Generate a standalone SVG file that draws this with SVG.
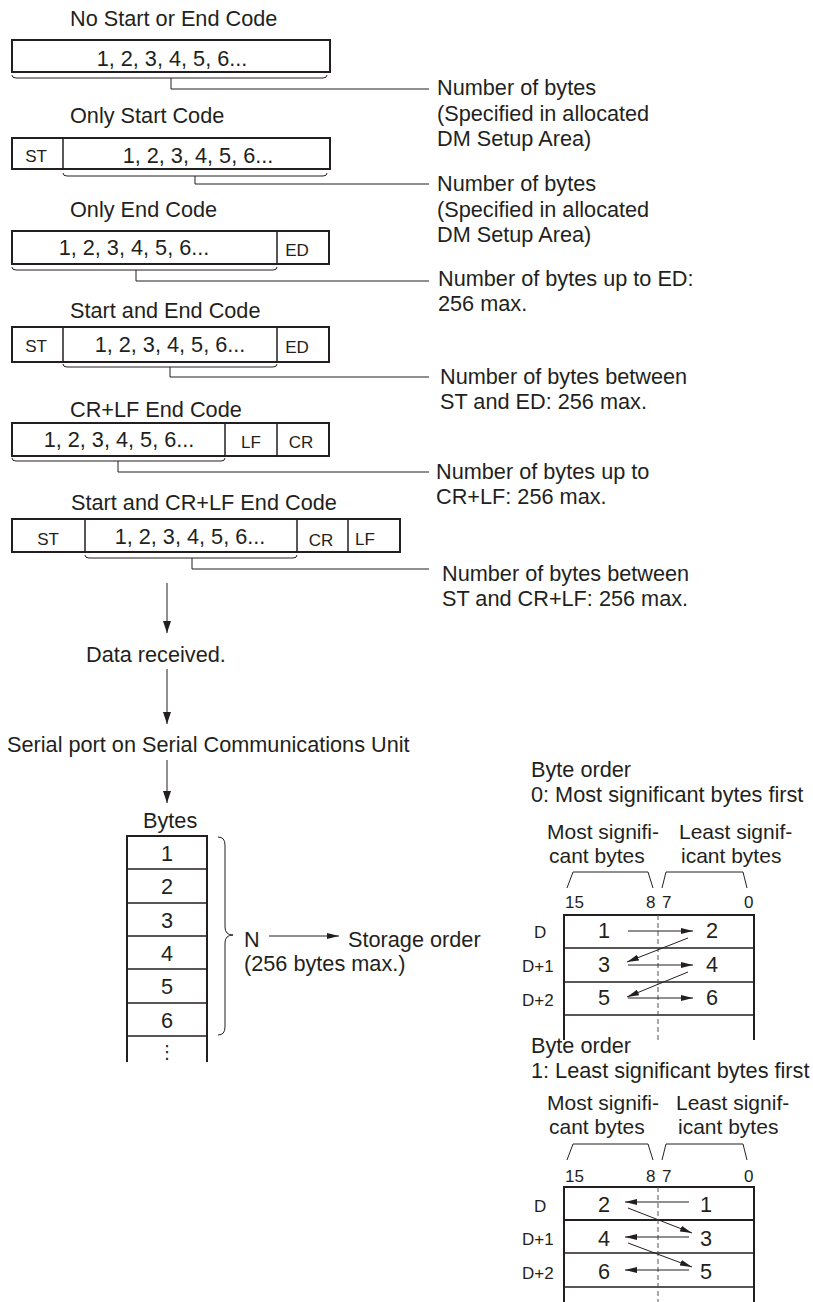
<svg xmlns="http://www.w3.org/2000/svg" width="813" height="1302" viewBox="0 0 813 1302">
<defs>
<style>
.t{font-family:"Liberation Sans",Arial,sans-serif;font-size:21.7px;fill:#231f20}
.s{font-size:17px}
.h{font-size:21px}
.m{text-anchor:middle}
.box{fill:none;stroke:#231f20;stroke-width:2}
.div{fill:none;stroke:#231f20;stroke-width:1.5}
.thin{fill:none;stroke:#231f20;stroke-width:1}
.dash{fill:none;stroke:#555;stroke-width:1;stroke-dasharray:5,3}
</style>
<marker id="ah" markerUnits="userSpaceOnUse" markerWidth="13" markerHeight="9" refX="12" refY="4" orient="auto"><path d="M0,0 L12,4 L0,8 z" fill="#231f20"/></marker>
<marker id="as" markerUnits="userSpaceOnUse" markerWidth="13" markerHeight="7" refX="12" refY="3" orient="auto"><path d="M0,0 L12,3 L0,6 z" fill="#231f20"/></marker>
</defs>
<rect width="813" height="1302" fill="#fff"/>

<g id="frame-none">
<text class="t" x="70" y="26">No Start or End Code</text>
<rect class="box" x="12" y="40" width="318" height="32"/>
<text class="t m" x="172" y="66">1, 2, 3, 4, 5, 6...</text>
</g>
<g id="frame-st">
<text class="t" x="70" y="123">Only Start Code</text>
<rect class="box" x="12" y="138" width="318" height="31"/>
<line class="div" x1="63" y1="138" x2="63" y2="169"/>
<text class="t s m" x="36" y="162">ST</text>
<text class="t m" x="198" y="163">1, 2, 3, 4, 5, 6...</text>
</g>
<g id="frame-ed">
<text class="t" x="70" y="217">Only End Code</text>
<rect class="box" x="12" y="231" width="317" height="33"/>
<line class="div" x1="277" y1="231" x2="277" y2="264"/>
<text class="t m" x="134" y="255">1, 2, 3, 4, 5, 6...</text>
<text class="t s m" x="297" y="256">ED</text>
</g>
<g id="frame-st-ed">
<text class="t" x="70" y="318">Start and End Code</text>
<rect class="box" x="12" y="327" width="317" height="35"/>
<line class="div" x1="63" y1="327" x2="63" y2="362"/>
<line class="div" x1="277" y1="327" x2="277" y2="362"/>
<text class="t s m" x="36" y="352">ST</text>
<text class="t m" x="170" y="352">1, 2, 3, 4, 5, 6...</text>
<text class="t s m" x="297" y="353">ED</text>
</g>
<g id="frame-crlf">
<text class="t" x="70" y="417">CR+LF End Code</text>
<rect class="box" x="12" y="423" width="317" height="33"/>
<line class="div" x1="225" y1="423" x2="225" y2="456"/>
<line class="div" x1="277" y1="423" x2="277" y2="456"/>
<text class="t m" x="119" y="447">1, 2, 3, 4, 5, 6...</text>
<text class="t s m" x="251" y="448">LF</text>
<text class="t s m" x="301" y="448">CR</text>
</g>
<g id="frame-st-crlf">
<text class="t" x="71" y="510">Start and CR+LF End Code</text>
<rect class="box" x="12" y="519" width="388" height="33"/>
<line class="div" x1="85" y1="519" x2="85" y2="552"/>
<line class="div" x1="297" y1="519" x2="297" y2="552"/>
<line class="div" x1="348" y1="519" x2="348" y2="552"/>
<text class="t s m" x="48" y="545">ST</text>
<text class="t m" x="190" y="544">1, 2, 3, 4, 5, 6...</text>
<text class="t s m" x="321" y="546">CR</text>
<text class="t s" x="355" y="545">LF</text>
</g>

<g id="labels">
<text class="t" x="437" y="95">Number of bytes<tspan x="437" dy="26">(Specified in allocated</tspan><tspan x="437" dy="25">DM Setup Area)</tspan></text>
<text class="t" x="437" y="191">Number of bytes<tspan x="437" dy="26">(Specified in allocated</tspan><tspan x="437" dy="25">DM Setup Area)</tspan></text>
<text class="t" x="438" y="286">Number of bytes up to ED:<tspan x="438" dy="24.5">256 max.</tspan></text>
<text class="t" x="440" y="384">Number of bytes between<tspan x="440" dy="24.5">ST and ED: 256 max.</tspan></text>
<text class="t" x="436" y="479">Number of bytes up to<tspan x="436" dy="24.5">CR+LF: 256 max.</tspan></text>
<text class="t" x="442" y="581">Number of bytes between<tspan x="442" dy="24.5">ST and CR+LF: 256 max.</tspan></text>
</g>

<g id="flow">
<text class="t" x="86" y="662">Data received.</text>
<text class="t" x="7" y="752">Serial port on Serial Communications Unit</text>
</g>

<g id="bytes-column">
<text class="t" x="143" y="828">Bytes</text>
<path class="box" d="M127,1062 V836 H207 V1062"/>
<path class="div" d="M127,869 H207 M127,903 H207 M127,936 H207 M127,969 H207 M127,1003 H207 M127,1036 H207"/>
<text class="t m" x="167" y="861">1</text>
<text class="t m" x="167" y="894">2</text>
<text class="t m" x="167" y="928">3</text>
<text class="t m" x="167" y="961">4</text>
<text class="t m" x="167" y="994">5</text>
<text class="t m" x="167" y="1028">6</text>
<text class="m" x="167" y="1058" style="font-family:'DejaVu Sans',sans-serif;font-size:18px;fill:#231f20">⋮</text>
<path class="thin" d="M218,837 Q225,837 225,845 V927 Q225,935 233,935 Q225,935 225,943 V1027 Q225,1035 218,1035"/>
<text class="t" x="244" y="947">N</text>
<text class="t" x="348" y="947">Storage order</text>
<text class="t" x="244" y="971">(256 bytes max.)</text>
</g>

<g id="msb-first">
<text class="t" x="531" y="777">Byte order<tspan x="531" dy="24.5">0: Most significant bytes first</tspan></text>
<text class="t h" x="547" y="839">Most signifi-<tspan x="549" dy="23.7">cant bytes</tspan></text>
<text class="t h" x="679" y="839">Least signif-<tspan x="681" dy="23.7">icant bytes</tspan></text>
<path class="thin" d="M567,888 L573,872 H648 L653,888 M662,888 L666,872 H743 L747,888"/>
<text class="t s" x="565" y="908">15</text>
<text class="t s" x="646" y="908">8</text>
<text class="t s" x="662" y="908">7</text>
<text class="t s" x="744" y="908">0</text>
<path class="box" d="M564,1040 V915 H754 V1040"/>
<path class="div" d="M564,948 H754 M564,982 H754 M564,1015 H754"/>
<line class="dash" x1="658" y1="915" x2="658" y2="1040"/>
<text class="t s" x="534" y="938">D</text>
<text class="t s" x="522" y="972">D+1</text>
<text class="t s" x="522" y="1006">D+2</text>
<text class="t m" x="604" y="938">1</text>
<text class="t m" x="712" y="938">2</text>
<text class="t m" x="604" y="972">3</text>
<text class="t m" x="712" y="972">4</text>
<text class="t m" x="604" y="1005">5</text>
<text class="t m" x="712" y="1005">6</text>
</g>

<g id="lsb-first">
<text class="t" x="531" y="1053">Byte order<tspan x="531" dy="24.5">1: Least significant bytes first</tspan></text>
<text class="t h" x="547" y="1110">Most signifi-<tspan x="549" dy="23.7">cant bytes</tspan></text>
<text class="t h" x="676" y="1110">Least signif-<tspan x="678" dy="23.7">icant bytes</tspan></text>
<path class="thin" d="M567,1160 L573,1144 H648 L653,1160 M662,1160 L666,1144 H743 L747,1160"/>
<text class="t s" x="565" y="1182">15</text>
<text class="t s" x="646" y="1182">8</text>
<text class="t s" x="662" y="1182">7</text>
<text class="t s" x="744" y="1182">0</text>
<path class="box" d="M564,1302 V1187 H754 V1302"/>
<path class="div" d="M564,1253 H754 M564,1287 H754"/>
<path class="box" d="M564,1220 H754"/>
<line class="dash" x1="658" y1="1187" x2="658" y2="1302"/>
<text class="t s" x="534" y="1212">D</text>
<text class="t s" x="522" y="1245">D+1</text>
<text class="t s" x="522" y="1279">D+2</text>
<text class="t m" x="604" y="1212">2</text>
<text class="t m" x="706" y="1212">1</text>
<text class="t m" x="604" y="1246">4</text>
<text class="t m" x="706" y="1246">3</text>
<text class="t m" x="604" y="1279">6</text>
<text class="t m" x="706" y="1279">5</text>
</g>

<g id="connectors">
<path class="thin" d="M12,75 Q12,78 16,78 H323 Q327,78 327,75 M171,78 V89 H429"/>
<path class="thin" d="M63,173 Q63,176 67,176 H323 Q327,176 327,173 M195,176 V184 H429"/>
<path class="thin" d="M12,267 Q12,270 16,270 H273 Q277,270 277,267 M136,270 V281 H429"/>
<path class="thin" d="M63,364 Q63,367 67,367 H273 Q277,367 277,364 M170,367 V377 H429"/>
<path class="thin" d="M12,458 Q12,461 16,461 H221 Q225,461 225,458 M118,461 V472 H429"/>
<path class="thin" d="M85,555 Q85,558 89,558 H293 Q297,558 297,555 M192,558 V569 H429"/>
<line class="thin" x1="167" y1="583" x2="167" y2="633" marker-end="url(#ah)"/>
<line class="thin" x1="167" y1="669" x2="167" y2="724" marker-end="url(#ah)"/>
<line class="thin" x1="167" y1="760" x2="167" y2="803" marker-end="url(#ah)"/>
<line class="thin" x1="269" y1="936" x2="339" y2="936" marker-end="url(#as)"/>
<line class="thin" x1="628" y1="931" x2="693" y2="931" marker-end="url(#as)"/>
<line class="thin" x1="688" y1="938" x2="627" y2="962" marker-end="url(#as)"/>
<line class="thin" x1="628" y1="965" x2="693" y2="965" marker-end="url(#as)"/>
<line class="thin" x1="688" y1="972" x2="627" y2="997" marker-end="url(#as)"/>
<line class="thin" x1="628" y1="998" x2="693" y2="998" marker-end="url(#as)"/>
<line class="thin" x1="689" y1="1202" x2="625" y2="1202" marker-end="url(#as)"/>
<line class="thin" x1="628" y1="1208" x2="692" y2="1233" marker-end="url(#as)"/>
<line class="thin" x1="689" y1="1237" x2="625" y2="1237" marker-end="url(#as)"/>
<line class="thin" x1="628" y1="1243" x2="692" y2="1267" marker-end="url(#as)"/>
<line class="thin" x1="689" y1="1270" x2="625" y2="1270" marker-end="url(#as)"/>
</g>
</svg>
